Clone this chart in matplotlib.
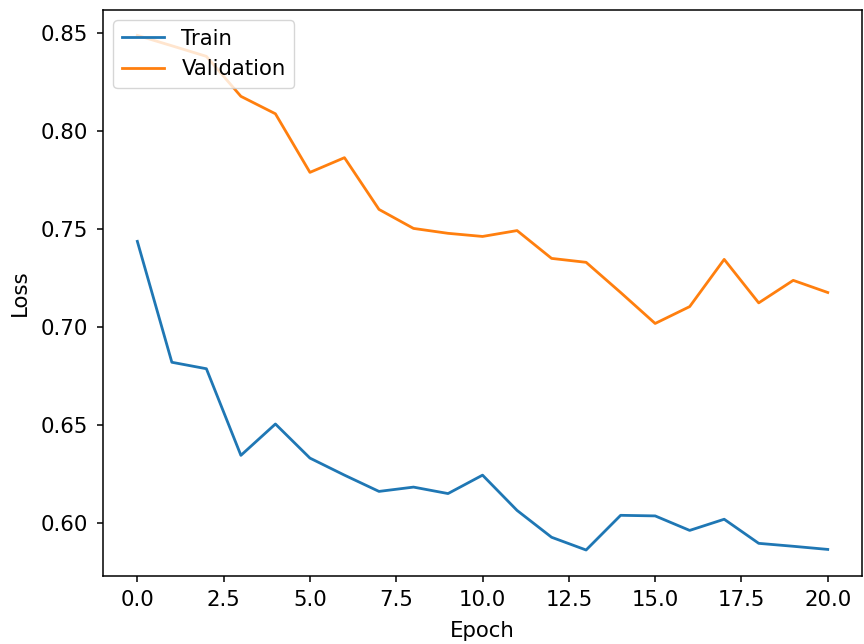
import matplotlib
matplotlib.use("Agg")
from matplotlib import pyplot as plt

epochs = list(range(21))
train_loss = [0.7439, 0.6822, 0.6789, 0.6347, 0.6507, 0.6333, 0.6246, 0.6163, 0.6185, 0.6152,
              0.6246, 0.6066, 0.5929, 0.5864, 0.6041, 0.6038, 0.5964, 0.6021, 0.5898, 0.5883, 0.5867]
val_loss = [0.8490, 0.8437, 0.8383, 0.8179, 0.8090, 0.7791, 0.7866, 0.7602, 0.7505, 0.7480,
            0.7464, 0.7494, 0.7352, 0.7332, 0.7178, 0.7020, 0.7106, 0.7347, 0.7125, 0.7240, 0.7178]

plt.rcParams['font.size'] = 15.3
plt.rcParams['axes.linewidth'] = 1.1

fig = plt.figure(figsize=(8.64, 6.44), dpi=100)
ax = fig.add_axes([0.119, 0.106, 0.879, 0.879])
ax.plot(epochs, train_loss, color='#1f77b4', linewidth=2.0, label='Train')
ax.plot(epochs, val_loss, color='#ff7f0e', linewidth=2.0, label='Validation')
ax.tick_params(length=4.5, width=1.1, pad=6)
ax.set_xlabel('Epoch', labelpad=8)
ax.set_ylabel('Loss', labelpad=8)
ax.legend(loc='upper left')
fig.savefig('out.png', dpi=100)
